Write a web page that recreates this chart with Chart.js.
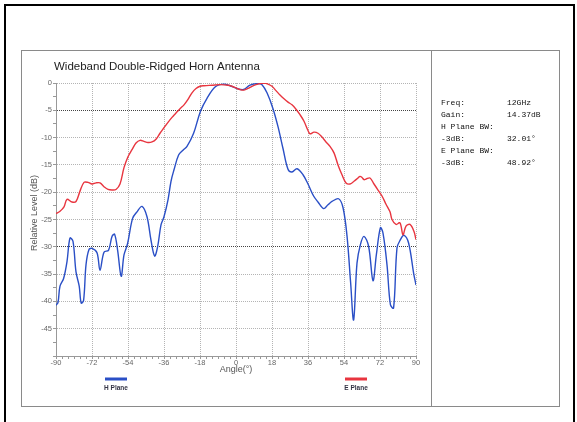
<!DOCTYPE html>
<html>
<head>
<meta charset="utf-8">
<title>Wideband Double-Ridged Horn Antenna</title>
<script src="https://cdn.jsdelivr.net/npm/chart.js@4.4.1/dist/chart.umd.min.js"></script>
<style>
  html, body { margin: 0; padding: 0; background: #fff; }
  #wrap { position: relative; width: 577px; height: 422px; overflow: hidden; }
  #chart { position: absolute; left: 0; top: 0; }
  .frame { position: absolute; left: 4px; top: 4px; width: 567px; height: 440px; border: 2px solid #000; }
  .box { position: absolute; left: 21px; top: 50px; width: 537px; height: 355px; border: 1px solid #8a8a8a; }
  .divider { position: absolute; left: 431px; top: 50px; width: 1px; height: 356px; background: #8a8a8a; }
  #info { position: absolute; left: 441px; top: 97px; font: 8px "Liberation Mono", "DejaVu Sans Mono", monospace; color: #111; }
  #info div { position: relative; height: 12px; line-height: 12px; white-space: pre; }
  #info span { position: absolute; left: 66px; }
</style>
</head>
<body>
<div id="wrap">
  <canvas id="chart" width="577" height="422"></canvas>
  <div class="frame"></div>
  <div class="box"></div>
  <div class="divider"></div>
  <div id="info"></div>
</div>
<script>
// H plane (blue) - angle in degrees, relative level in dB
const hAngles = [-90, -89, -88, -86.2, -84.5, -83, -81.5, -80, -78.4, -77.4, -76.2, -75, -73.5, -72, -69.5, -68, -66, -63.7, -62, -60.7,
  -59.2, -57.4, -56, -54.2, -51.7, -49.5, -47, -44.5, -42.5, -40.7, -39.2, -37.5, -36, -34, -32.5, -31, -28.7, -26.5, -24.5, -21.2,
  -17.8, -14.5, -10.3, -6, -3, 0.5, 3.8, 7, 11, 13, 15.5, 18.5, 21, 23.5, 26, 28, 30.5, 33.5, 36, 38.8,
  41, 43.8, 46, 48, 51.3, 53.5, 55.5, 57.3, 58.8, 60.5, 62.2, 64, 66.3, 68.5, 70.2, 72.2, 73.5, 75.5, 77.2, 78.8,
  80.5, 82.2, 84, 86.3, 88.8, 90];
const hLevels = [-40.7, -40.2, -37.2, -35.8, -32.7, -28.4, -29.0, -34.6, -37.2, -40.3, -39.8, -33.3, -30.5, -30.3, -31.1, -34.3, -31.0, -30.6, -28.1, -27.7,
  -30.6, -35.4, -31.5, -29.4, -24.8, -23.6, -22.6, -24.5, -28.8, -31.7, -30.0, -26.0, -24.5, -21.4, -18.0, -15.9, -13.2, -12.3, -11.6, -9.2,
  -5.2, -2.8, -0.7, -0.2, -0.5, -1.0, -1.2, -0.4, -0.1, -0.3, -1.8, -4.7, -8.0, -12.0, -15.8, -16.3, -15.7, -16.8, -18.5, -20.7,
  -21.8, -23.0, -22.3, -21.7, -21.2, -22.8, -28.0, -36.5, -43.4, -33.0, -29.6, -28.1, -29.9, -36.2, -31.4, -26.5, -27.5, -33.3, -40.6, -41.2,
  -30.2, -28.7, -27.9, -29.3, -34.8, -37.0];

// E plane (red)
const eAngles = [-90, -88, -86, -84.5, -82, -80, -78, -76, -74, -72, -70, -68, -66, -64, -62, -60, -58, -56, -54, -52,
  -50, -48, -46, -44, -42, -40, -38, -36, -34, -32, -30, -28, -26, -24, -22, -20, -18, -16, -12, -8,
  -4, -2, 0, 2, 4, 6, 8, 10, 12, 14, 16, 18, 20, 22, 24, 26, 28, 30, 32, 34,
  36, 37, 39, 41, 43, 45, 47, 49, 51, 53, 55, 57, 59, 61, 62, 63, 64, 65, 67, 69,
  71, 73, 75, 77, 78, 80, 82, 83.5, 85, 87, 89, 90];
const eLevels = [-23.9, -23.5, -22.7, -21.3, -21.8, -21.7, -19.8, -18.2, -18.2, -18.5, -18.3, -18.3, -19.0, -19.5, -19.6, -19.5, -18.5, -15.5, -13.5, -12.2,
  -11.0, -10.5, -10.7, -10.9, -10.8, -10.3, -9.2, -8.2, -7.2, -6.3, -5.5, -4.7, -4.0, -3.0, -1.8, -1.0, -0.6, -0.5, -0.4, -0.3,
  -0.4, -0.6, -0.9, -1.2, -1.3, -1.0, -0.6, -0.3, -0.1, 0, -0.2, -0.6, -1.4, -2.2, -2.9, -3.5, -4.0, -4.8, -5.8, -7.0,
  -8.7, -9.3, -9.0, -9.2, -9.9, -10.8, -11.6, -12.8, -15.0, -16.8, -18.3, -18.5, -18.0, -17.4, -17.1, -17.3, -17.7, -17.6, -17.4, -18.5,
  -19.6, -20.7, -22.2, -23.6, -25.0, -25.9, -25.6, -27.8, -26.2, -25.9, -27.2, -28.7];

const xTicks = [-90, -72, -54, -36, -18, 0, 18, 36, 54, 72, 90];
const yTicks = [0, -5, -10, -15, -20, -25, -30, -35, -40, -45];
const darkGrid = [-5, -30];

const chartTitle = 'Wideband Double-Ridged Horn Antenna';
const xTitle = 'Angle(\u00b0)';
const yTitle = 'Relative Level (dB)';

const infoLabels = ['Freq:', 'Gain:', 'H Plane BW:', '-3dB:', 'E Plane BW:', '-3dB:'];
const infoValues = ['12GHz', '14.37dB', '', '32.01\u00b0', '', '48.92\u00b0'];

const hColor = '#2a4fc6';
const eColor = '#e8353f';

// side panel
const info = document.getElementById('info');
infoLabels.forEach((t, i) => {
  const row = document.createElement('div');
  row.textContent = t;
  const v = document.createElement('span');
  v.textContent = infoValues[i];
  row.appendChild(v);
  info.appendChild(row);
});

const toPoints = (xs, ys) => xs.map((x, i) => ({ x: x, y: ys[i] }));

// title, axis titles and the two legend keys
const decor = {
  id: 'decor',
  afterDraw(chart) {
    const { ctx, chartArea, scales } = chart;
    ctx.save();
    ctx.textBaseline = 'middle';
    ctx.fillStyle = '#222';
    ctx.font = '11.5px "Liberation Sans", Arial, sans-serif';
    ctx.textAlign = 'left';
    ctx.fillText(chartTitle, 54, 67);

    ctx.fillStyle = '#555';
    ctx.font = '9px "Liberation Sans", Arial, sans-serif';
    ctx.textAlign = 'center';
    ctx.fillText(xTitle, (chartArea.left + chartArea.right) / 2, 370);

    ctx.save();
    ctx.translate(35, 213);
    ctx.rotate(-Math.PI / 2);
    ctx.fillText(yTitle, 0, 0);
    ctx.restore();

    const keys = [['H Plane', hColor, -60], ['E Plane', eColor, 60]];
    ctx.font = 'bold 6.5px "Liberation Sans", Arial, sans-serif';
    keys.forEach(([name, color, at]) => {
      const cx = scales.x.getPixelForValue(at);
      ctx.strokeStyle = color;
      ctx.lineWidth = 3;
      ctx.beginPath();
      ctx.moveTo(cx - 11, 379);
      ctx.lineTo(cx + 11, 379);
      ctx.stroke();
      ctx.fillStyle = '#334';
      ctx.fillText(name, cx, 388);
    });
    ctx.restore();
  }
};

const tickFont = { family: '"Liberation Sans", Arial, sans-serif', size: 7.5 };

new Chart(document.getElementById('chart'), {
  type: 'line',
  data: {
    datasets: [
      {
        label: 'E Plane',
        data: toPoints(eAngles, eLevels),
        borderColor: eColor,
        borderWidth: 1.4,
        pointRadius: 0,
        tension: 0.35
      },
      {
        label: 'H Plane',
        data: toPoints(hAngles, hLevels),
        borderColor: hColor,
        borderWidth: 1.4,
        pointRadius: 0,
        tension: 0.35
      }
    ]
  },
  options: {
    responsive: false,
    animation: false,
    layout: { padding: { left: 34, right: 161, top: 83, bottom: 46 } },
    plugins: {
      legend: { display: false },
      tooltip: { enabled: false }
    },
    scales: {
      x: {
        type: 'linear',
        min: -90,
        max: 90,
        afterFit(s) { s.height = 20; },
        ticks: {
          stepSize: 3,
          autoSkip: false,
          maxRotation: 0,
          padding: -1,
          color: '#666',
          font: tickFont,
          callback: v => xTicks.includes(v) ? v : ''
        },
        grid: {
          color: c => c.tick && xTicks.includes(c.tick.value) ? '#b4b4b4' : 'transparent',
          tickLength: 3,
          tickColor: '#999'
        },
        border: { color: '#999', dash: [1, 1] }
      },
      y: {
        min: -50,
        max: 0,
        afterFit(s) { s.width = 22; },
        ticks: {
          stepSize: 2.5,
          autoSkip: false,
          padding: 1,
          color: '#666',
          font: tickFont,
          callback: v => yTicks.includes(v) ? v : ''
        },
        grid: {
          color: c => {
            if (!c.tick) return 'transparent';
            if (darkGrid.includes(c.tick.value)) return '#444';
            return yTicks.includes(c.tick.value) ? '#b4b4b4' : 'transparent';
          },
          tickLength: 3,
          tickColor: '#999'
        },
        border: { color: '#999', dash: [1, 1] }
      }
    }
  },
  plugins: [decor]
});
</script>
</body>
</html>
